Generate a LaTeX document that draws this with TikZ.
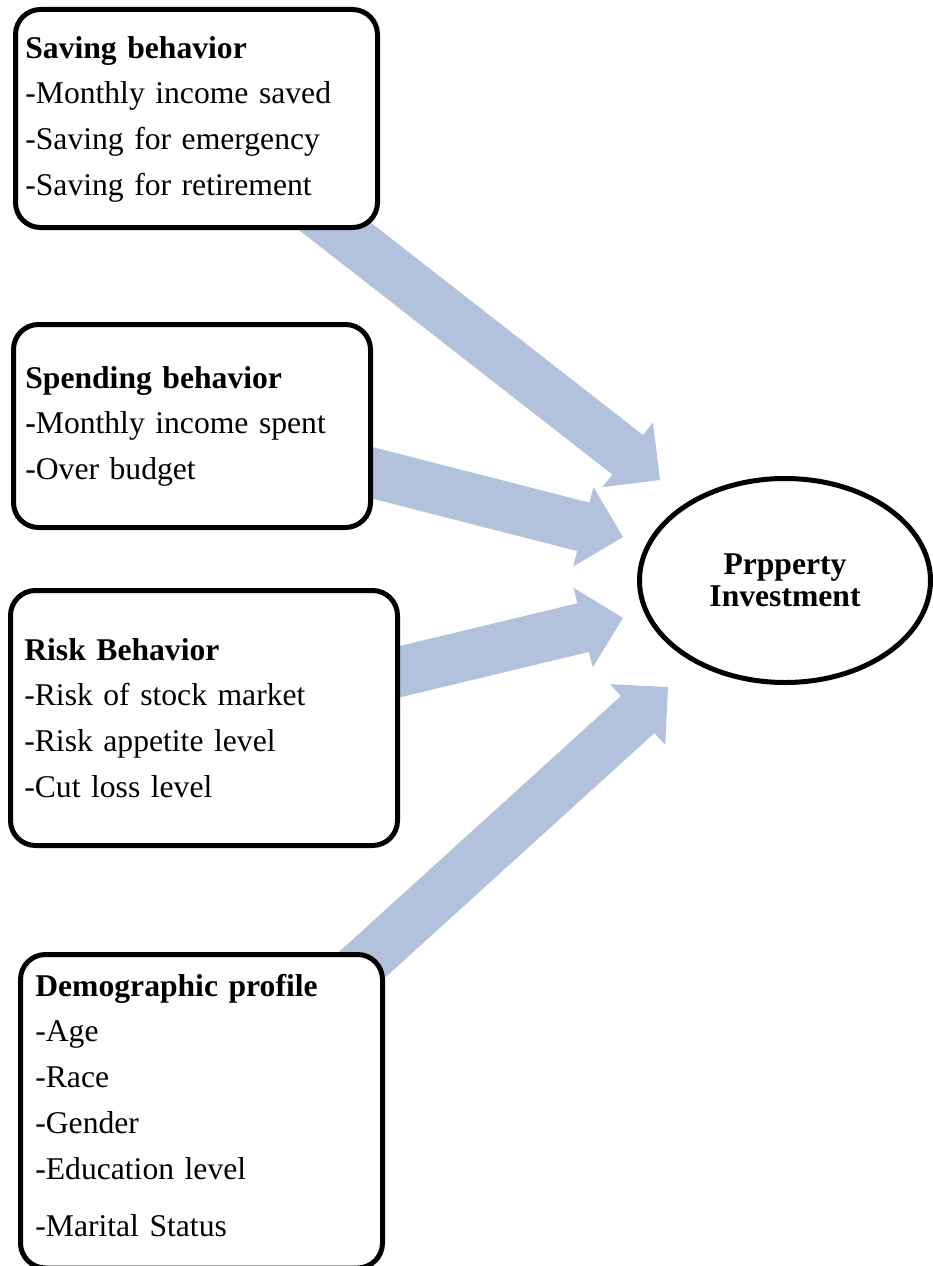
\documentclass[tikz,border=0pt]{standalone}
\usepackage{fontspec}
\setmainfont{Liberation Serif}
\usetikzlibrary{calc,shapes.geometric}
\definecolor{arrowblue}{RGB}{178,194,220}
\def\shafthw{0.5cm}
\def\headhw{0.82cm}
\def\headlen{0.82cm}
\def\blockarrow(#1)(#2){\coordinate (ah) at ($(#2)!\headlen!(#1)$);
	\fill[arrowblue] ($(#1)!\shafthw!90:(#2)$) -- ($(ah)!\shafthw!90:(#2)$) -- ($(ah)!\headhw!90:(#2)$) -- (#2) -- ($(ah)!\headhw!-90:(#2)$) -- ($(ah)!\shafthw!-90:(#2)$) -- ($(#1)!\shafthw!-90:(#2)$) -- cycle;}

\begin{document}
\begin{tikzpicture}[
		boxtext/.style={anchor=north west, inner sep=0pt, align=left, text width=7cm, font=\fontsize{18}{26}\selectfont},
		frame/.style={line width=1mm, rounded corners=0.5cm, fill=white}]
		%%%%% START %%%%%
		
		\useasboundingbox (0, 0) rectangle (18.64, -25.32);
		
		\node[ellipse, draw, line width=1mm, minimum width=5.82cm, minimum height=4.08cm, inner sep=0pt, align=center, font=\fontsize{18}{18}\selectfont\bfseries] (inv) at (15.7, -11.61) {Prpperty\\Investment};
		
		\coordinate (s1) at (6.1, -4.06);
		\coordinate (s2) at (6.68, -9.26);
		\coordinate (s3) at (7.22, -13.62);
		\coordinate (s4) at (6.64, -19.84);
		\coordinate (t1) at ($(inv.center)+(-2.5, 2.01)$);
		\coordinate (t2) at ($(inv.center)+(-3.24, 0.87)$);
		\coordinate (t3) at ($(inv.center)+(-3.24, -0.75)$);
		\coordinate (t4) at ($(inv.center)+(-2.34, -2.13)$);
		
		\blockarrow(s1)(t1);
		\blockarrow(s2)(t2);
		\blockarrow(s3)(t3);
		\blockarrow(s4)(t4);
		
		\draw[frame] (0.31, -0.19) rectangle (7.55, -4.55);
		\node[boxtext] (saving) at (0.5, -0.518) {\strut\textbf{Saving behavior}\\-Monthly income saved\\-Saving for emergency\\-Saving for retirement};
		
		\draw[frame] (0.27, -6.49) rectangle (7.41, -10.55);
		\node[boxtext] (spending) at (0.5, -7.118) {\strut\textbf{Spending behavior}\\\textbf{-}Monthly income spent\\-Over budget};
		
		\draw[frame] (0.21, -11.81) rectangle (7.95, -16.91);
		\node[boxtext] (risk) at (0.48, -12.558) {\strut\textbf{Risk Behavior}\\-Risk of stock market\\-Risk appetite level\\-Cut loss level};
		
		\draw[frame] (0.41, -19.09) rectangle (7.65, -25.36);
		\node[boxtext] (demo) at (0.7, -19.278) {\strut\textbf{Demographic profile}\\-Age\\-Race\\-Gender\\-Education level\\[0.24cm]-Marital Status};
		
		%%%%% END %%%%%
	\end{tikzpicture}
\end{document}
